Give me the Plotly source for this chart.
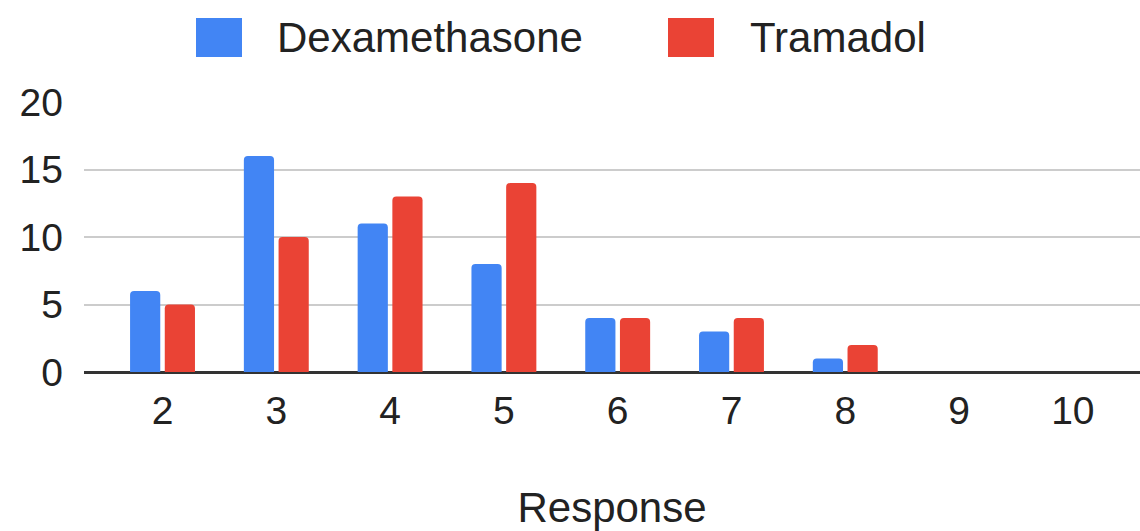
import plotly.graph_objects as go

# Response scores and counts per group
responses = ["2", "3", "4", "5", "6", "7", "8", "9", "10"]
dexamethasone = [6, 16, 11, 8, 4, 3, 1, 0, 0]
tramadol = [5, 10, 13, 14, 4, 4, 2, 0, 0]
y_ticks = [0, 5, 10, 15, 20]

BLUE = "#4285F4"
RED = "#EA4335"
FONT = "Liberation Sans, Arial, sans-serif"
TEXT = "#222222"

W, H = 1140, 531
ML, MR, MT, MB = 84, 0, 102, 159
PW, PH = W - ML - MR, H - MT - MB


def px_x(x):
    return (x - ML) / PW


def px_y(y):
    return (H - MB - y) / PH


fig = go.Figure()
fig.add_trace(go.Bar(x=responses, y=dexamethasone, name="Dexamethasone",
                     marker=dict(color=BLUE, cornerradius=4, line=dict(width=0)),
                     showlegend=False))
fig.add_trace(go.Bar(x=responses, y=tramadol, name="Tramadol",
                     marker=dict(color=RED, cornerradius=4, line=dict(width=0)),
                     showlegend=False))

# Legend drawn as swatches plus labels above the plot
shapes = []
annotations = []
for color, label, sx, tx in [(BLUE, "Dexamethasone", 196, 275), (RED, "Tramadol", 668, 748)]:
    shapes.append(dict(type="rect", xref="paper", yref="paper",
                       x0=px_x(sx), x1=px_x(sx + 46), y0=px_y(57), y1=px_y(18),
                       fillcolor=color, line=dict(width=0), layer="above"))
    annotations.append(dict(text=label, xref="paper", yref="paper",
                            x=px_x(tx), y=px_y(37), xanchor="left", yanchor="middle",
                            showarrow=False, font=dict(family=FONT, size=42, color=TEXT)))

fig.update_layout(
    width=W, height=H,
    margin=dict(l=ML, r=MR, t=MT, b=MB, pad=0),
    paper_bgcolor="white", plot_bgcolor="white",
    barmode="group", bargap=0.39, bargroupgap=0.13,
    font=dict(family=FONT, color=TEXT),
    shapes=shapes, annotations=annotations,
    xaxis=dict(
        type="category", range=[-0.69, 8.59],
        showgrid=False, zeroline=False, showline=False, ticks="",
        tickfont=dict(size=39, color=TEXT), ticklabelstandoff=12,
        title=dict(text="Response", font=dict(size=42, color=TEXT), standoff=62),
    ),
    yaxis=dict(
        range=[0, 20], tickvals=y_ticks,
        showgrid=True, gridcolor="#CCCCCC", gridwidth=2,
        zeroline=True, zerolinecolor="#333333", zerolinewidth=3,
        showline=False, ticks="",
        tickfont=dict(size=39, color=TEXT), ticklabelstandoff=20,
    ),
)

fig.write_html("out.html")
